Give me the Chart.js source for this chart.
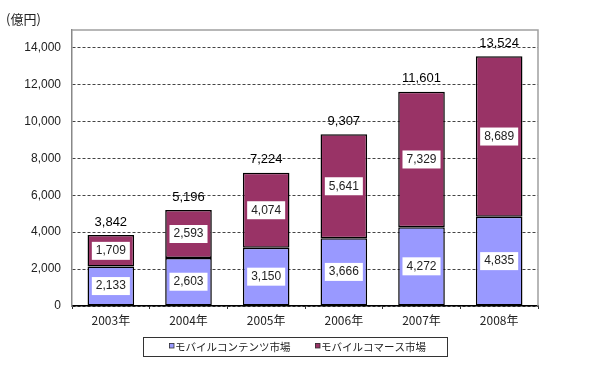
<!DOCTYPE html>
<html lang="ja">
<head>
<meta charset="utf-8">
<script src="https://cdn.jsdelivr.net/npm/chart.js@4/dist/chart.umd.min.js"></script>
<style>
  html, body { margin: 0; padding: 0; background: #fff; }
  #wrap { position: relative; width: 599px; height: 367px; }
</style>
</head>
<body>
<div id="wrap"><canvas id="chart" width="599" height="367"></canvas></div>
<script>
// データ
const years = ['2003年', '2004年', '2005年', '2006年', '2007年', '2008年'];
const contentsMarket = [2133, 2603, 3150, 3666, 4272, 4835];
const commerceMarket = [1709, 2593, 4074, 5641, 7329, 8689];
const totals = [3842, 5196, 7224, 9307, 11601, 13524];
const yTicks = [0, 2000, 4000, 6000, 8000, 10000, 12000, 14000];

const numFont = '"Liberation Sans", Arial, sans-serif';
const jpFont = '"Noto Sans CJK JP", sans-serif';

const fmt = v => v.toLocaleString('en-US');

// 棒の中の白いラベルと合計値
const labelPlugin = {
    id: 'barLabels',
    afterDatasetsDraw(chart) {
        const ctx = chart.ctx;
        ctx.save();
        ctx.font = '12px ' + numFont;
        ctx.textAlign = 'center';
        ctx.textBaseline = 'middle';
        chart.data.datasets.forEach((ds, di) => {
            const meta = chart.getDatasetMeta(di);
            meta.data.forEach((bar, i) => {
                const cy = (bar.y + bar.base) / 2;
                const text = fmt(ds.data[i]);
                const w = ctx.measureText(text).width + 8;
                ctx.fillStyle = '#fff';
                ctx.fillRect(bar.x - w / 2, cy - 9, w, 18);
                ctx.fillStyle = '#222';
                ctx.fillText(text, bar.x, cy);
            });
        });
        // 合計
        const top = chart.getDatasetMeta(1);
        ctx.font = '13px ' + numFont;
        ctx.fillStyle = '#000';
        top.data.forEach((bar, i) => {
            ctx.fillText(fmt(totals[i]), bar.x, bar.y - 13);
        });
        ctx.restore();
    }
};

// 枠線・凡例・単位
const framePlugin = {
    id: 'frame',
    beforeDatasetsDraw(chart) {
        const { ctx, chartArea: a } = chart;
        ctx.save();
        ctx.strokeStyle = '#a0a0a0';
        ctx.lineWidth = 1.5;
        ctx.beginPath();
        ctx.moveTo(a.left, a.top);
        ctx.lineTo(a.right, a.top);
        ctx.lineTo(a.right, a.bottom);
        ctx.stroke();
        ctx.restore();
    },
    afterDraw(chart) {
        const ctx = chart.ctx;
        ctx.save();
        // 凡例
        ctx.strokeStyle = '#333';
        ctx.lineWidth = 1;
        ctx.strokeRect(143.5, 337.5, 304, 19);
        ctx.font = '10.5px ' + jpFont;
        ctx.textBaseline = 'middle';
        const itemX = [169, 315];
        chart.data.datasets.forEach((ds, i) => {
            const x = itemX[i];
            ctx.fillStyle = ds.backgroundColor;
            ctx.fillRect(x, 343, 5, 5);
            ctx.strokeStyle = '#333';
            ctx.lineWidth = 0.8;
            ctx.strokeRect(x + 0.5, 343.5, 4.5, 4.5);
            ctx.fillStyle = '#222';
            ctx.fillText(ds.label, x + 6, 347);
        });
        // 単位
        ctx.font = '13px ' + jpFont;
        ctx.fillStyle = '#222';
        ctx.fillText('(億円)', 6, 19);
        ctx.restore();
    }
};

new Chart(document.getElementById('chart'), {
    type: 'bar',
    data: {
        labels: years,
        datasets: [
            {
                label: 'モバイルコンテンツ市場',
                data: contentsMarket,
                backgroundColor: '#9999ff',
                borderColor: '#000',
                borderWidth: 1.5,
                borderSkipped: false,
                categoryPercentage: 0.6,
                barPercentage: 1
            },
            {
                label: 'モバイルコマース市場',
                data: commerceMarket,
                backgroundColor: '#993366',
                borderColor: '#000',
                borderWidth: 1.5,
                borderSkipped: false,
                categoryPercentage: 0.6,
                barPercentage: 1
            }
        ]
    },
    options: {
        responsive: false,
        animation: false,
        layout: { padding: { left: 0, right: 61, top: 30, bottom: 33 } },
        scales: {
            x: {
                stacked: true,
                grid: { drawOnChartArea: false, offset: true, tickLength: 3, color: '#333' },
                border: { color: '#000', width: 1.5 },
                ticks: { color: '#222', font: { size: 12, family: jpFont }, padding: 4 },
                afterFit: s => { s.height = 28; }
            },
            y: {
                stacked: true,
                min: 0,
                max: 14950,
                afterBuildTicks: s => { s.ticks = yTicks.map(v => ({ value: v })); },
                grid: { color: '#444', lineWidth: 1, drawTicks: false },
                border: { color: '#888', width: 1.5, dash: [3, 2] },
                ticks: {
                    color: '#222',
                    font: { size: 12, family: numFont },
                    padding: 11,
                    callback: v => fmt(v)
                },
                afterFit: s => { s.width = 72; }
            }
        },
        plugins: {
            legend: { display: false },
            tooltip: { enabled: false }
        }
    },
    plugins: [labelPlugin, framePlugin]
});
</script>
</body>
</html>
